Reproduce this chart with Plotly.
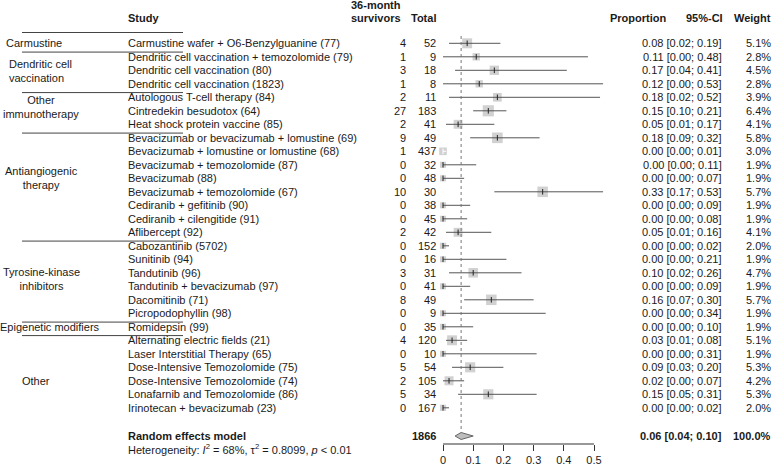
import plotly.graph_objects as go
import math

# ---------------- data ----------------
studies = [
    "Carmustine wafer + O6-Benzylguanine (77)",
    "Dendritic cell vaccination + temozolomide (79)",
    "Dendritic cell vaccination (80)",
    "Dendritic cell vaccination (1823)",
    "Autologous T-cell therapy (84)",
    "Cintredekin besudotox (64)",
    "Heat shock protein vaccine (85)",
    "Bevacizumab or bevacizumab + lomustine (69)",
    "Bevacizumab + lomustine or lomustine (68)",
    "Bevacizumab + temozolomide (87)",
    "Bevacizumab (88)",
    "Bevacizumab + temozolomide (67)",
    "Cediranib + gefitinib (90)",
    "Cediranib + cilengitide (91)",
    "Aflibercept (92)",
    "Cabozantinib (5702)",
    "Sunitinib (94)",
    "Tandutinib (96)",
    "Tandutinib + bevacizumab (97)",
    "Dacomitinib (71)",
    "Picropodophyllin (98)",
    "Romidepsin (99)",
    "Alternating electric fields (21)",
    "Laser Interstitial Therapy (65)",
    "Dose-Intensive Temozolomide (75)",
    "Dose-Intensive Temozolomide (74)",
    "Lonafarnib and Temozolomide (86)",
    "Irinotecan + bevacizumab (23)",
]
survivors = [4, 1, 3, 1, 2, 27, 2, 9, 1, 0, 0, 10, 0, 0, 2, 0, 0, 3, 0, 8, 0, 0, 4, 0, 5, 2, 5, 0]
totals = [52, 9, 18, 8, 11, 183, 41, 49, 437, 32, 48, 30, 38, 45, 42, 152, 16, 31, 41, 49, 9, 35,
          120, 10, 54, 105, 34, 167]
proportion = [0.08, 0.11, 0.17, 0.12, 0.18, 0.15, 0.05, 0.18, 0.00, 0.00, 0.00, 0.33, 0.00, 0.00,
              0.05, 0.00, 0.00, 0.10, 0.00, 0.16, 0.00, 0.00, 0.03, 0.00, 0.09, 0.02, 0.15, 0.00]
ci_lower = [0.02, 0.00, 0.04, 0.00, 0.02, 0.10, 0.01, 0.09, 0.00, 0.00, 0.00, 0.17, 0.00, 0.00,
            0.01, 0.00, 0.00, 0.02, 0.00, 0.07, 0.00, 0.00, 0.01, 0.00, 0.03, 0.00, 0.05, 0.00]
ci_upper = [0.19, 0.48, 0.41, 0.53, 0.52, 0.21, 0.17, 0.32, 0.01, 0.11, 0.07, 0.53, 0.09, 0.08,
            0.16, 0.02, 0.21, 0.26, 0.09, 0.30, 0.34, 0.10, 0.08, 0.31, 0.20, 0.07, 0.31, 0.02]
weights = [5.1, 2.8, 4.5, 2.8, 3.9, 6.4, 4.1, 5.8, 3.0, 1.9, 1.9, 5.7, 1.9, 1.9, 4.1, 2.0, 1.9,
           4.7, 1.9, 5.7, 1.9, 1.9, 5.1, 1.9, 5.3, 4.2, 5.3, 2.0]

group_labels = ["Carmustine", "Dendritic cell<br>vaccination", "Other<br>immunotherapy",
                "Antiangiogenic<br>therapy", "Tyrosine-kinase<br>inhibitors",
                "Epigenetic modifiers", "Other"]
group_first_row = [1, 2, 5, 8, 16, 22, 23]

summary_label = "Random effects model"
summary_total = 1866
summary_est = 0.06
summary_lower = 0.04
summary_upper = 0.10
summary_weight = "100.0%"
heterogeneity = "Heterogeneity: <i>I</i><sup>2</sup> = 68%, τ<sup>2</sup> = 0.8099, <i>p</i> &lt; 0.01"

tick_values = [0, 0.1, 0.2, 0.3, 0.4, 0.5]
tick_labels = ["0", "0.1", "0.2", "0.3", "0.4", "0.5"]

# ---------------- layout geometry ----------------
W, H = 773, 466
PLOT_BOTTOM = 444
ROW0_PX, ROW_PX = 43.3, 13.5
X0_PX, UNIT_PX = 443.0, 302.0


def row_of(px):
    return 1 + (px - ROW0_PX) / ROW_PX


def px_x(px):
    return px / W


FONT = "Liberation Sans, Arial, Helvetica, sans-serif"
TXT = "#1a1a1a"
n = len(studies)
rows = list(range(1, n + 1))

fig = go.Figure()

# boxes
box_side = [4.4 * math.sqrt(w) for w in weights]
fig.add_trace(go.Scatter(
    x=proportion, y=rows, mode="markers",
    marker=dict(symbol="square", size=box_side, color="#bdbdbd", line=dict(width=0)),
    hoverinfo="skip", cliponaxis=False))

# CI lines (white when fully inside the box)
dark_x, dark_y, white_x, white_y = [], [], [], []
inside = []
for r, p, lo, hi, s in zip(rows, proportion, ci_lower, ci_upper, box_side):
    half = s / 2 / UNIT_PX
    ins = lo >= p - half and hi <= p + half
    inside.append(ins)
    if ins:
        white_x += [lo, hi, None]
        white_y += [r, r, None]
    else:
        dark_x += [lo, hi, None]
        dark_y += [r, r, None]
fig.add_trace(go.Scatter(x=dark_x, y=dark_y, mode="lines",
                         line=dict(color="#555555", width=1), hoverinfo="skip"))
fig.add_trace(go.Scatter(x=white_x, y=white_y, mode="lines",
                         line=dict(color="#ffffff", width=1), hoverinfo="skip"))

# estimate ticks
tick_col = ["#ffffff" if ins else "#222222" for ins in inside]
fig.add_trace(go.Scatter(
    x=proportion, y=rows, mode="markers",
    marker=dict(symbol="line-ns", size=4, line=dict(color=tick_col, width=1)),
    hoverinfo="skip", cliponaxis=False))

# summary diamond
sum_row = row_of(436)
dh = 3.5 / ROW_PX
fig.add_trace(go.Scatter(
    x=[summary_lower, summary_est, summary_upper, summary_est, summary_lower],
    y=[sum_row, sum_row - dh, sum_row, sum_row + dh, sum_row],
    mode="lines", fill="toself", fillcolor="#bdbdbd",
    line=dict(color="#666666", width=1), hoverinfo="skip"))

shapes = []
# reference dotted line
shapes.append(dict(type="line", xref="x", yref="y", x0=summary_est, x1=summary_est,
                   y0=row_of(36), y1=sum_row - dh,
                   line=dict(color="#777777", width=1, dash="dot")))
# axis line
shapes.append(dict(type="line", xref="x", yref="paper", x0=tick_values[0], x1=tick_values[-1],
                   y0=0, y1=0, line=dict(color="#333333", width=1)))
# group separators
for i, g in enumerate(group_first_row):
    yy = g - (0.8 if i == 0 else 0.35)
    shapes.append(dict(type="line", xref="paper", yref="y", x0=px_x(22), x1=px_x(183),
                       y0=yy, y1=yy, line=dict(color="#444444", width=1)))

annotations = []


def ann(text, x_px, y_row, xanchor="left", bold=False, size=11, align="left", y_px=None):
    if bold:
        text = "<b>" + text + "</b>"
    d = dict(text=text, x=px_x(x_px), xref="paper",
             xanchor=xanchor, yanchor="middle", showarrow=False, align=align,
             font=dict(family=FONT, size=size, color=TXT))
    if y_px is not None:
        d.update(y=(PLOT_BOTTOM - y_px) / PLOT_BOTTOM, yref="paper")
    else:
        d.update(y=y_row, yref="y")
    annotations.append(d)


# headers
hdr = row_of(18)
ann("Study", 126, hdr, bold=True)
ann("36-month", 349, row_of(5), bold=True)
ann("survivors", 349, hdr, bold=True)
ann("Total", 438, hdr, xanchor="right", bold=True)
ann("Proportion", 608, hdr, bold=True)
ann("95%-CI", 725, hdr, xanchor="right", bold=True)
ann("Weight", 773, hdr, xanchor="right", bold=True)

# study rows
for r, s, ev, tot, p, lo, hi, w in zip(rows, studies, survivors, totals, proportion,
                                       ci_lower, ci_upper, weights):
    ann(s, 126, r)
    ann(str(ev), 408, r, xanchor="right")
    ann(str(tot), 438, r, xanchor="right")
    ann(f"{p:.2f} [{lo:.2f}; {hi:.2f}]", 724, r, xanchor="right")
    ann(f"{w:.1f}%", 773, r, xanchor="right")

# group labels
group_y = [1, row_of(71), row_of(107), row_of(177.5), row_of(278.5), 22, row_of(381)]
group_x = [4, 7, 41, 41, 41, 50, 36]
group_anchor = ["left", "left", "center", "center", "center", "center", "center"]
for lab, gy, gx, ga in zip(group_labels, group_y, group_x, group_anchor):
    ann(lab, gx, gy, xanchor=ga, align="left" if ga == "left" else "center")

# summary row
ann(summary_label, 126, sum_row, bold=True)
ann(str(summary_total), 438, sum_row, xanchor="right", bold=True)
ann(f"{summary_est:.2f} [{summary_lower:.2f}; {summary_upper:.2f}]", 724, sum_row,
    xanchor="right", bold=True)
ann(summary_weight, 773, sum_row, xanchor="right", bold=True)
ann(heterogeneity, 126, None, y_px=449)

fig.update_layout(
    width=W, height=H,
    margin=dict(l=0, r=0, t=0, b=H - PLOT_BOTTOM, pad=0),
    paper_bgcolor="white", plot_bgcolor="white",
    showlegend=False,
    shapes=shapes, annotations=annotations,
    xaxis=dict(range=[(0 - X0_PX) / UNIT_PX, (W - X0_PX) / UNIT_PX],
               tickvals=tick_values, ticktext=tick_labels, ticks="outside", ticklen=6,
               tickcolor="#333333", tickwidth=1, showgrid=False, zeroline=False,
               showline=False, tickfont=dict(family=FONT, size=11, color=TXT),
               fixedrange=True),
    yaxis=dict(range=[row_of(PLOT_BOTTOM), row_of(0)], visible=False, fixedrange=True),
)

fig.write_html("out.html", config={"displayModeBar": False},
               post_script="document.body.style.margin='0';document.body.style.overflow='hidden';")
